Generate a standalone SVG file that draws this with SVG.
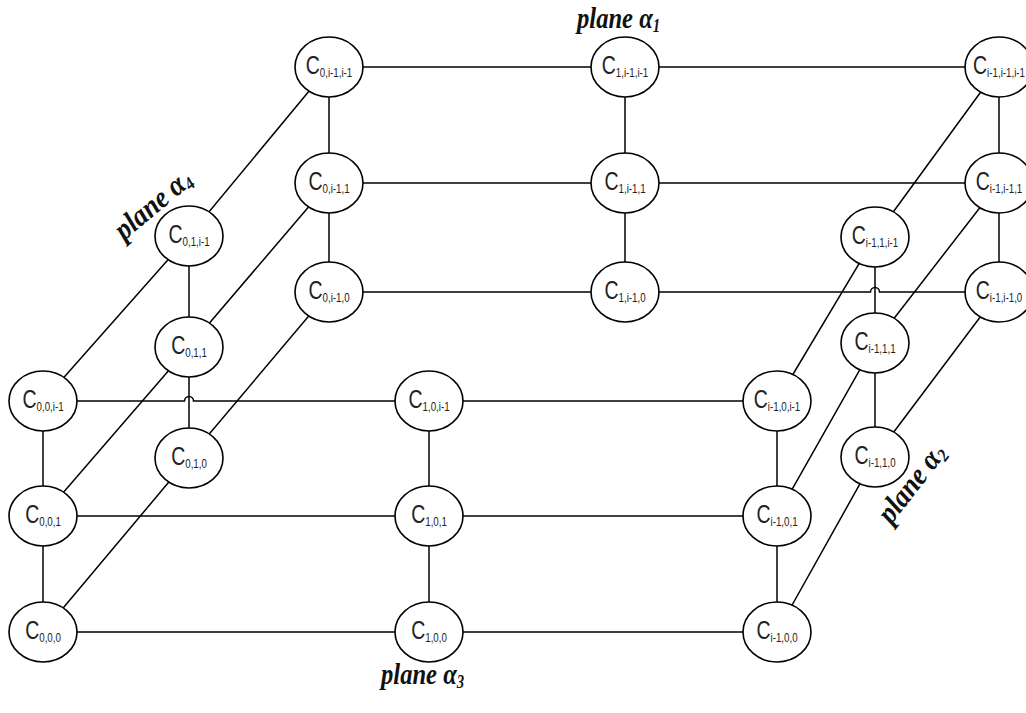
<svg xmlns="http://www.w3.org/2000/svg" width="1026" height="713" viewBox="0 0 1026 713">
<style>
.edge{stroke:#000;stroke-width:1.5;fill:none}
.node ellipse{fill:#fff;stroke:#000;stroke-width:1.6}
.lbl{font-family:"Liberation Sans",Arial,sans-serif;fill:#222;text-anchor:middle}
.C{font-size:25px}
.sub{font-size:12.5px}
.plane{font-family:"Liberation Serif","Times New Roman",serif;font-weight:bold;font-style:italic;font-size:30px;fill:#111}
.ps{font-size:18px}
</style>
<rect width="1026" height="713" fill="#fff"/>
<g id="connectors">
<path class="edge" d="M43,401 H184.5 A4.5,4.5 0 0 1 193.5,401 H429 H777"/>
<path class="edge" d="M43,516 H777"/>
<path class="edge" d="M43,632 H777"/>
<path class="edge" d="M43,401 V632 M429,401 V632 M777,401 V632"/>
<path class="edge" d="M329,67 H999"/>
<path class="edge" d="M329,183 H999"/>
<path class="edge" d="M329,292 H870.5 A4.5,4.5 0 0 1 879.5,292 H999"/>
<path class="edge" d="M329,67 V292 M625,67 V292 M999,67 V292"/>
<path class="edge" d="M189,236 V458 M875,237 V457"/>
<path class="edge" d="M43,401 L189,236 L329,67"/>
<path class="edge" d="M43,516 L189,347 L329,183"/>
<path class="edge" d="M43,632 L189,458 L329,292"/>
<path class="edge" d="M777,401 L875,237 L999,67"/>
<path class="edge" d="M777,516 L875,343 L999,183"/>
<path class="edge" d="M777,632 L875,457 L999,292"/>
</g>
<g id="n-0-im1-im1" class="node" transform="translate(329,67)"><ellipse rx="34" ry="30"/><text class="lbl" y="7" transform="scale(0.78 1)"><tspan class="C">C</tspan><tspan class="sub" dy="3">0,i-1,i-1</tspan></text></g>
<g id="n-1-im1-im1" class="node" transform="translate(625,67)"><ellipse rx="34" ry="30"/><text class="lbl" y="7" transform="scale(0.78 1)"><tspan class="C">C</tspan><tspan class="sub" dy="3">1,i-1,i-1</tspan></text></g>
<g id="n-im1-im1-im1" class="node" transform="translate(999,67)"><ellipse rx="34" ry="30"/><text class="lbl" y="7" transform="scale(0.78 1)"><tspan class="C">C</tspan><tspan class="sub" dy="3">i-1,i-1,i-1</tspan></text></g>
<g id="n-0-im1-1" class="node" transform="translate(329,183)"><ellipse rx="34" ry="30"/><text class="lbl" y="7" transform="scale(0.78 1)"><tspan class="C">C</tspan><tspan class="sub" dy="3">0,i-1,1</tspan></text></g>
<g id="n-1-im1-1" class="node" transform="translate(625,183)"><ellipse rx="34" ry="30"/><text class="lbl" y="7" transform="scale(0.78 1)"><tspan class="C">C</tspan><tspan class="sub" dy="3">1,i-1,1</tspan></text></g>
<g id="n-im1-im1-1" class="node" transform="translate(999,183)"><ellipse rx="34" ry="30"/><text class="lbl" y="7" transform="scale(0.78 1)"><tspan class="C">C</tspan><tspan class="sub" dy="3">i-1,i-1,1</tspan></text></g>
<g id="n-0-im1-0" class="node" transform="translate(329,292)"><ellipse rx="34" ry="30"/><text class="lbl" y="7" transform="scale(0.78 1)"><tspan class="C">C</tspan><tspan class="sub" dy="3">0,i-1,0</tspan></text></g>
<g id="n-1-im1-0" class="node" transform="translate(625,292)"><ellipse rx="34" ry="30"/><text class="lbl" y="7" transform="scale(0.78 1)"><tspan class="C">C</tspan><tspan class="sub" dy="3">1,i-1,0</tspan></text></g>
<g id="n-im1-im1-0" class="node" transform="translate(999,292)"><ellipse rx="34" ry="30"/><text class="lbl" y="7" transform="scale(0.78 1)"><tspan class="C">C</tspan><tspan class="sub" dy="3">i-1,i-1,0</tspan></text></g>
<g id="n-0-1-im1" class="node" transform="translate(189,236)"><ellipse rx="34" ry="30"/><text class="lbl" y="7" transform="scale(0.78 1)"><tspan class="C">C</tspan><tspan class="sub" dy="3">0,1,i-1</tspan></text></g>
<g id="n-0-1-1" class="node" transform="translate(189,347)"><ellipse rx="34" ry="30"/><text class="lbl" y="7" transform="scale(0.78 1)"><tspan class="C">C</tspan><tspan class="sub" dy="3">0,1,1</tspan></text></g>
<g id="n-0-1-0" class="node" transform="translate(189,458)"><ellipse rx="34" ry="30"/><text class="lbl" y="7" transform="scale(0.78 1)"><tspan class="C">C</tspan><tspan class="sub" dy="3">0,1,0</tspan></text></g>
<g id="n-im1-1-im1" class="node" transform="translate(875,237)"><ellipse rx="34" ry="30"/><text class="lbl" y="7" transform="scale(0.78 1)"><tspan class="C">C</tspan><tspan class="sub" dy="3">i-1,1,i-1</tspan></text></g>
<g id="n-im1-1-1" class="node" transform="translate(875,343)"><ellipse rx="34" ry="30"/><text class="lbl" y="7" transform="scale(0.78 1)"><tspan class="C">C</tspan><tspan class="sub" dy="3">i-1,1,1</tspan></text></g>
<g id="n-im1-1-0" class="node" transform="translate(875,457)"><ellipse rx="34" ry="30"/><text class="lbl" y="7" transform="scale(0.78 1)"><tspan class="C">C</tspan><tspan class="sub" dy="3">i-1,1,0</tspan></text></g>
<g id="n-0-0-im1" class="node" transform="translate(43,401)"><ellipse rx="34" ry="30"/><text class="lbl" y="7" transform="scale(0.78 1)"><tspan class="C">C</tspan><tspan class="sub" dy="3">0,0,i-1</tspan></text></g>
<g id="n-1-0-im1" class="node" transform="translate(429,401)"><ellipse rx="34" ry="30"/><text class="lbl" y="7" transform="scale(0.78 1)"><tspan class="C">C</tspan><tspan class="sub" dy="3">1,0,i-1</tspan></text></g>
<g id="n-im1-0-im1" class="node" transform="translate(777,401)"><ellipse rx="34" ry="30"/><text class="lbl" y="7" transform="scale(0.78 1)"><tspan class="C">C</tspan><tspan class="sub" dy="3">i-1,0,i-1</tspan></text></g>
<g id="n-0-0-1" class="node" transform="translate(43,516)"><ellipse rx="34" ry="30"/><text class="lbl" y="7" transform="scale(0.78 1)"><tspan class="C">C</tspan><tspan class="sub" dy="3">0,0,1</tspan></text></g>
<g id="n-1-0-1" class="node" transform="translate(429,516)"><ellipse rx="34" ry="30"/><text class="lbl" y="7" transform="scale(0.78 1)"><tspan class="C">C</tspan><tspan class="sub" dy="3">1,0,1</tspan></text></g>
<g id="n-im1-0-1" class="node" transform="translate(777,516)"><ellipse rx="34" ry="30"/><text class="lbl" y="7" transform="scale(0.78 1)"><tspan class="C">C</tspan><tspan class="sub" dy="3">i-1,0,1</tspan></text></g>
<g id="n-0-0-0" class="node" transform="translate(43,632)"><ellipse rx="34" ry="30"/><text class="lbl" y="7" transform="scale(0.78 1)"><tspan class="C">C</tspan><tspan class="sub" dy="3">0,0,0</tspan></text></g>
<g id="n-1-0-0" class="node" transform="translate(429,632)"><ellipse rx="34" ry="30"/><text class="lbl" y="7" transform="scale(0.78 1)"><tspan class="C">C</tspan><tspan class="sub" dy="3">1,0,0</tspan></text></g>
<g id="n-im1-0-0" class="node" transform="translate(777,632)"><ellipse rx="34" ry="30"/><text class="lbl" y="7" transform="scale(0.78 1)"><tspan class="C">C</tspan><tspan class="sub" dy="3">i-1,0,0</tspan></text></g>
<g id="plane-labels">
<text class="plane" transform="translate(577,28) scale(0.82 1)">plane α<tspan class="ps" dy="4">1</tspan></text>
<text class="plane" transform="translate(381,684) scale(0.82 1)">plane α<tspan class="ps" dy="4">3</tspan></text>
<text class="plane" transform="translate(124,241) rotate(-40) scale(0.9 1)">plane α<tspan class="ps" dy="4">4</tspan></text>
<text class="plane" transform="translate(891,525) rotate(-52) scale(0.9 1)">plane α<tspan class="ps" dy="4">2</tspan></text>
</g>
</svg>
